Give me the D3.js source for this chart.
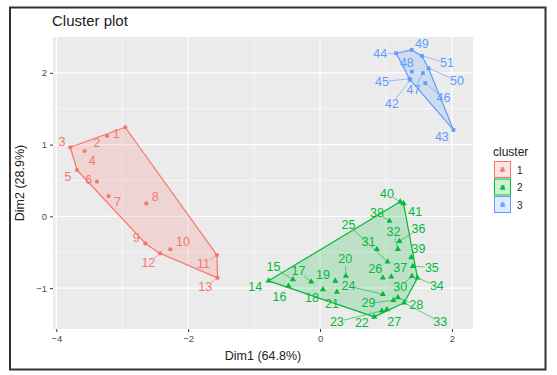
<!DOCTYPE html>
<html><head><meta charset="utf-8">
<script src="https://cdn.jsdelivr.net/npm/d3@7"></script>
<style>html,body{margin:0;padding:0;background:#fff;}</style>
</head><body>
<svg id="c" width="557" height="375"></svg>
<script>
// ---- data ----
const ids = d3.range(1, 52).map(String);
const clusterOf = [
  1,1,1,1,1,1,1,1,1,1,1,1,1,
  2,2,2,2,2,2,2,2,2,2,2,2,2,2,2,2,2,2,2,2,2,2,2,2,2,2,2,2,
  3,3,3,3,3,3,3,3,3,3
];
const dim1 = [
  -2.954,-3.231,-3.788,-3.571,-3.686,-3.383,-3.207,-2.635,-2.650,-2.271,-1.563,-2.426,-1.554,
  -0.781,-0.411,-0.478,-0.134,0.044,0.231,0.392,0.256,0.821,0.938,0.953,1.023,0.953,1.014,
  1.181,1.114,1.393,0.862,1.181,1.276,1.478,1.408,1.205,1.080,1.054,1.382,1.216,1.266,
  1.368,2.024,1.155,1.357,1.595,1.560,1.393,1.390,1.645,1.545
];
const dim2 = [
  1.242,1.120,0.963,0.911,0.646,0.483,0.283,0.181,-0.377,-0.460,-0.540,-0.516,-0.857,
  -0.899,-0.879,-0.972,-0.913,-1.018,-0.901,-0.831,-1.053,-1.401,-1.317,-1.085,-0.633,-0.857,-1.298,
  -1.130,-1.168,-0.835,-0.460,-0.460,-1.205,-0.857,-0.695,-0.346,-0.843,-0.065,-0.572,0.204,0.181,
  1.902,1.204,2.274,1.916,1.858,1.997,2.018,2.320,2.065,2.237
];
const clusters = ["1","2","3"];
const xTicks = [-4,-2,0,2];
const yTicks = [-1,0,1,2];

// label nudges (pixels) as placed by the repel layout
const labelNudge = [
  [-9,6.7],[-10,6.7],[-8.3,-5.6],[7.7,9.7],[-9,6.7],[-8.4,-1.7],[9,5.7],[9,-6],[-9,-5],[12.7,-7.6],[-13.4,9],[-11.7,10],[-12.3,9],
  [-13.3,6],[-19.4,-12],[-9,10.7],[-12.7,-11],[-11,9],[-12.3,-6],[-0.7,-16.7],[-5,12.3],[-12.3,6.6],[-45,11],[-34.4,-8],[-39,-36.7],[-7.7,-8.4],[7.3,12.4],
  [18.3,7.7],[-25,3.3],[-11.7,10.7],[-8.4,-7.6],[-4.4,-17.6],[36,19],[19.4,8.3],[19,1.3],[19,-11.7],[9,-8.4],[-12.6,-8.3],[7.3,-8],[-13.3,-7.7],[11.7,8.4],
  [-18.3,24],[-11.6,7.3],[-16,0.7],[-27.6,2.7],[18.3,15],[-9.4,17.4],[-5,-9],[10.2,-6],[28.4,12.4],[25,7.3]
];

const colors = ["#F8766D","#00BA38","#619CFF"];

// ---- layout ----
const svg = d3.select("#c");
const P = {l:53, r:473, t:37, b:329};
const x = d3.scaleLinear().domain([-4.05, 2.32]).range([P.l, P.r]);
const y = d3.scaleLinear().domain([-1.57, 2.50]).range([P.b, P.t]);
const col = d3.scaleOrdinal().domain(clusters).range(colors);

svg.append("rect").attr("x",10).attr("y",7.5).attr("width",535.5).attr("height",362)
  .attr("fill","none").attr("stroke","#333").attr("stroke-width",2);

svg.append("rect").attr("x",P.l).attr("y",P.t).attr("width",P.r-P.l).attr("height",P.b-P.t).attr("fill","#EBEBEB");

const g = svg.append("g");
// minor grid
[-3,-1,1].forEach(v=>g.append("line").attr("x1",x(v)).attr("x2",x(v)).attr("y1",P.t).attr("y2",P.b).attr("stroke","#fff").attr("stroke-width",0.6));
[-0.5,0.5,1.5].forEach(v=>g.append("line").attr("y1",y(v)).attr("y2",y(v)).attr("x1",P.l).attr("x2",P.r).attr("stroke","#fff").attr("stroke-width",0.6));
// major grid
xTicks.forEach(v=>g.append("line").attr("x1",x(v)).attr("x2",x(v)).attr("y1",P.t).attr("y2",P.b).attr("stroke","#fff").attr("stroke-width",1.1));
yTicks.forEach(v=>g.append("line").attr("y1",y(v)).attr("y2",y(v)).attr("x1",P.l).attr("x2",P.r).attr("stroke","#fff").attr("stroke-width",1.1));

// axes
const xAxis = d3.axisBottom(x).tickValues(xTicks).tickSize(3).tickPadding(3).tickFormat(d3.format("d"));
const yAxis = d3.axisLeft(y).tickValues(yTicks).tickSize(3).tickPadding(3).tickFormat(d3.format("d"));
const ax = svg.append("g").attr("transform",`translate(0,${P.b})`).call(xAxis);
const ay = svg.append("g").attr("transform",`translate(${P.l},0)`).call(yAxis);
[ax,ay].forEach(a=>{
  a.select(".domain").remove();
  a.selectAll(".tick line").attr("stroke","#333");
  a.selectAll(".tick text").attr("fill","#4D4D4D").attr("font-size",9.5).attr("font-family","Liberation Sans, Arial, sans-serif");
});

// data rows
const pts = ids.map((id,i)=>({id, c:String(clusterOf[i]), px:x(dim1[i]), py:y(dim2[i]), n:labelNudge[i]}));

// hulls
clusters.forEach(c=>{
  const hull = d3.polygonHull(pts.filter(p=>p.c===c).map(p=>[p.px,p.py]));
  g.append("path").attr("d","M"+hull.join("L")+"Z")
    .attr("fill",col(c)).attr("fill-opacity",0.2)
    .attr("stroke",col(c)).attr("stroke-width",1.2).attr("stroke-linejoin","round");
});

// leader segments
pts.forEach(p=>{
  const [dx,dy]=p.n; const d=Math.hypot(dx,dy);
  if(d>15){
    const k=(d-7)/d;
    g.append("line").attr("x1",p.px).attr("y1",p.py).attr("x2",p.px+dx*k).attr("y2",p.py+dy*k)
      .attr("stroke",col(p.c)).attr("stroke-width",0.6);
  }
});

// points
const sym = {"1":d3.symbolCircle,"2":d3.symbolTriangle,"3":d3.symbolSquare};
const symSize = {"1":14,"2":16,"3":14};
pts.forEach(p=>{
  g.append("path").attr("d",d3.symbol().type(sym[p.c]).size(symSize[p.c])())
    .attr("transform",`translate(${p.px},${p.py})`).attr("fill",col(p.c));
});

// labels
pts.forEach(p=>{
  g.append("text").attr("x",p.px+p.n[0]).attr("y",p.py+p.n[1])
    .attr("text-anchor","middle").attr("dominant-baseline","central")
    .attr("font-family","Liberation Sans, Arial, sans-serif").attr("font-size",12.5)
    .attr("fill",col(p.c)).text(p.id);
});

// titles
svg.append("text").attr("x",52).attr("y",26).attr("font-family","Liberation Sans, Arial, sans-serif")
  .attr("font-size",15).attr("fill","#222").text("Cluster plot");
svg.append("text").attr("x",(P.l+P.r)/2).attr("y",360).attr("text-anchor","middle")
  .attr("font-family","Liberation Sans, Arial, sans-serif").attr("font-size",12.5).attr("fill","#222").text("Dim1 (64.8%)");
svg.append("text").attr("transform",`translate(24,${(P.t+P.b)/2}) rotate(-90)`).attr("text-anchor","middle")
  .attr("font-family","Liberation Sans, Arial, sans-serif").attr("font-size",12.5).attr("fill","#222").text("Dim2 (28.9%)");

// legend
const lg = svg.append("g").attr("transform","translate(493,150)");
lg.append("text").attr("x",0).attr("y",6).attr("font-family","Liberation Sans, Arial, sans-serif")
  .attr("font-size",12).attr("fill","#222").text("cluster");
clusters.forEach((c,i)=>{
  const yy = 11 + i*17.5;
  lg.append("rect").attr("x",1).attr("y",yy).attr("width",17).attr("height",17).attr("fill","#fff");
  lg.append("rect").attr("x",1.5).attr("y",yy+0.5).attr("width",16).attr("height",16)
    .attr("fill",col(c)).attr("fill-opacity",0.2).attr("stroke",col(c)).attr("stroke-width",1);
  lg.append("path").attr("d",d3.symbol().type(sym[c]).size(10)()).attr("transform",`translate(9.5,${yy+9})`).attr("fill",col(c));
  lg.append("text").attr("x",9.5).attr("y",yy+11).attr("text-anchor","middle").attr("font-family","Liberation Sans, Arial, sans-serif")
    .attr("font-size",9).attr("font-weight","bold").attr("fill",col(c)).text("a");
  lg.append("text").attr("x",24).attr("y",yy+9).attr("dominant-baseline","central").attr("font-family","Liberation Sans, Arial, sans-serif")
    .attr("font-size",10).attr("fill","#222").text(c);
});
</script>
</body></html>
